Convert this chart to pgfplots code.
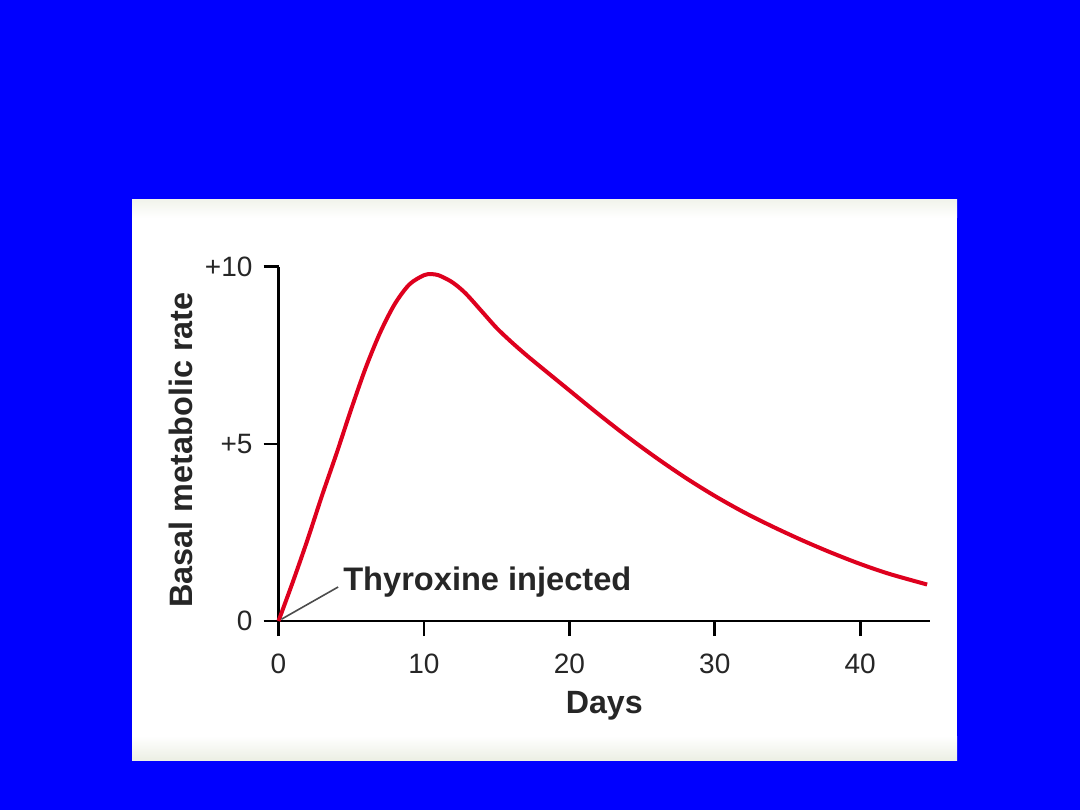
\documentclass[border=0pt]{standalone}
\usepackage{pgfplots}
\pgfplotsset{compat=1.18}
\usepackage{fontspec}
\setmainfont{Liberation Sans}
\definecolor{bgblue}{RGB}{0,0,255}
\definecolor{curvered}{RGB}{222,0,30}
\definecolor{stripA}{RGB}{236,239,228}
\begin{document}
\begin{tikzpicture}[x=1pt,y=1pt]
\fill[bgblue] (0,0) rectangle (540,405);
\useasboundingbox (0,0) rectangle (540,405);
\fill[white] (66,25) rectangle (478.5,305);
\shade[top color=white,bottom color=stripA] (66,25) rectangle (478.5,37);
\shade[top color=stripA!70,bottom color=white] (66,296) rectangle (478.5,305);
\begin{axis}[
  at={(139.25pt,94.5pt)}, anchor=south west,
  scale only axis, width=325.75pt, height=177.15pt,
  xmin=0, xmax=44.8, ymin=0, ymax=10,
  axis x line*=bottom, axis y line*=left,
  tick align=outside, major tick length=7.5pt,
  axis line style={line width=1.3pt, black},
  every tick/.style={line width=1.3pt, black},
  xtick={0,10,20,30,40}, ytick={0,5,10}, yticklabels={0,+5,+10},
  tick label style={font=\fontsize{14}{16}\selectfont, text=black!85},
  xticklabel style={yshift=-5.5pt},
  yticklabel style={xshift=-2pt},
  /pgf/number format/assume math mode=true,
  clip=false,
]
\addplot[curvered, line width=2pt, smooth] coordinates {
(0,0) (1,1.12) (2,2.3) (3,3.55) (4,4.74) (5,5.98) (6,7.15) (7,8.15) (8,8.95)
(9,9.5) (10,9.76) (10.5,9.79) (11,9.76) (11.8,9.6) (12.4,9.42) (13,9.19)
(14,8.73) (15,8.27) (16,7.88) (17,7.52) (18,7.18) (20,6.51) (22,5.84)
(24,5.2) (26,4.6) (28,4.04) (30,3.53) (32,3.07) (34,2.66) (36,2.28)
(38,1.93) (40,1.61) (42,1.33) (44.6,1.03)
};
\draw[black!70, line width=0.8pt] (axis cs:0.2,0.05) -- (axis cs:4.1,0.96);
\node[anchor=base west, font=\bfseries\fontsize{16.3}{18}\selectfont, text=black!85, inner sep=0pt] at (axis cs:4.43,0.875) {Thyroxine injected};
\node[rotate=90, font=\bfseries\fontsize{16.2}{18}\selectfont, text=black!85] at (rel axis cs:-0.1497,0.483) {Basal metabolic rate};
\node[anchor=base, font=\bfseries\fontsize{16.1}{18}\selectfont, text=black!85, inner sep=0pt] at (rel axis cs:0.5,-0.2597) {Days};
\end{axis}
\end{tikzpicture}
\end{document}
